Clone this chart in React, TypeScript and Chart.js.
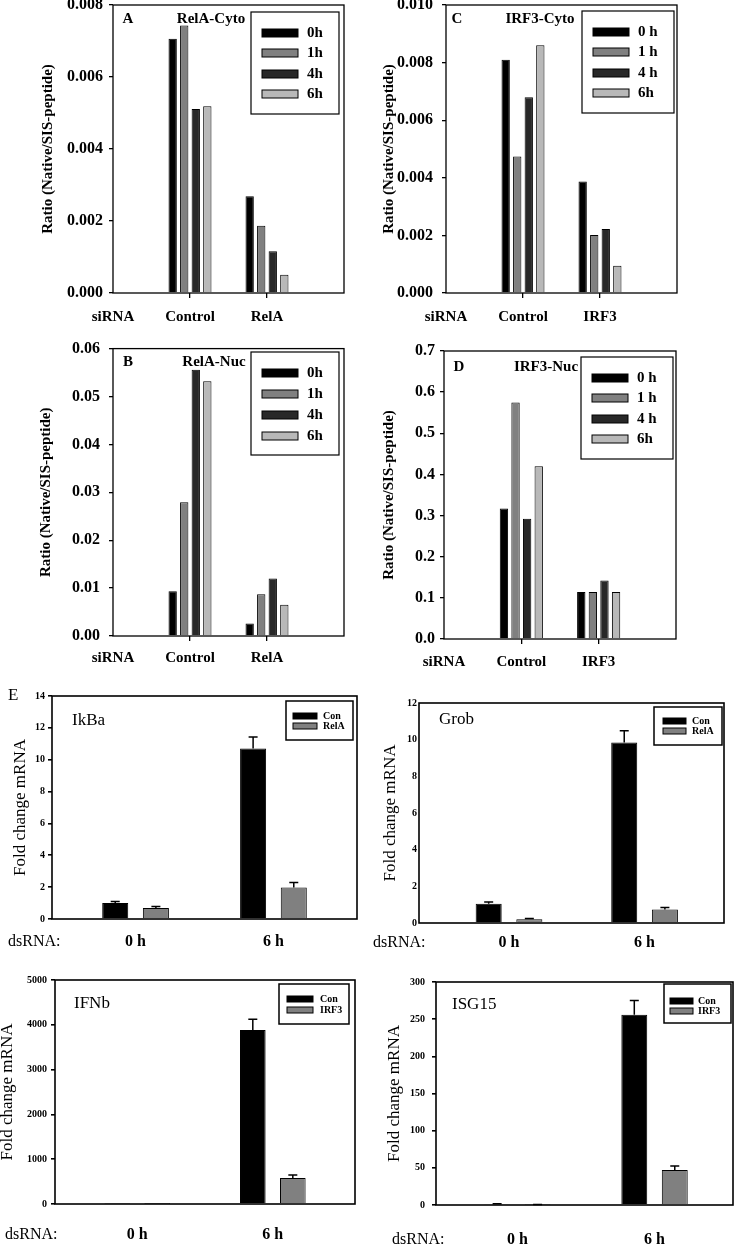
import React, { useEffect, useRef } from 'react';
import { Chart, registerables } from 'chart.js';

Chart.register(...registerables);

const SERIF = "'Liberation Serif', 'DejaVu Serif', 'Times New Roman', serif";

// ---------------- DATA: panels A–D (SIS-peptide ratios) ----------------
const timePoints = ['0h', '1h', '4h', '6h'];
const timePointsSpaced = ['0 h', '1 h', '4 h', '6h'];
const timeColors = ['#000000', '#808080', '#282828', '#b8b8b8'];
const relaCategories = ['siRNA', 'Control', 'RelA'];
const irf3Categories = ['siRNA', 'Control', 'IRF3'];
const categoryTickPositions = [0, 1, 2];
const groupPositions = [1, 2];

const relaCytoControl = [0.00706, 0.00743, 0.00511, 0.00519];
const relaCytoKnockdown = [0.00269, 0.00187, 0.00116, 0.00051];
const relaNucControl = [0.00935, 0.0279, 0.0556, 0.0532];
const relaNucKnockdown = [0.0026, 0.0087, 0.012, 0.0065];
const irf3CytoControl = [0.0081, 0.00474, 0.0068, 0.0086];
const irf3CytoKnockdown = [0.00387, 0.00201, 0.00222, 0.00095];
const irf3NucControl = [0.317, 0.575, 0.292, 0.42];
const irf3NucKnockdown = [0.114, 0.114, 0.142, 0.114];

// ---------------- DATA: panel E (fold change mRNA) ----------------
const dsRnaTimes = ['0 h', '6 h'];
const siRnaColors = ['#000000', '#808080'];
const ikbaCon = [1.0, 10.7];
const ikbaConErr = [0.1, 0.73];
const ikbaRelA = [0.69, 1.98];
const ikbaRelAErr = [0.1, 0.31];
const grobCon = [1.05, 9.84];
const grobConErr = [0.1, 0.65];
const grobRelA = [0.2, 0.73];
const grobRelAErr = [0.05, 0.11];
const ifnbCon = [3, 3886];
const ifnbConErr = [0, 237];
const ifnbIrf3 = [1, 580];
const ifnbIrf3Err = [0, 66];
const isg15Con = [1.4, 256];
const isg15ConErr = [0.3, 19];
const isg15Irf3 = [0.5, 47];
const isg15Irf3Err = [0.1, 5.4];

// ---------------- helpers ----------------
function timeDatasets(control: number[], knockdown: number[], labels: string[]) {
  return labels.map((label, t) => ({
    label,
    data: groupPositions.map((x, g) => ({ x, y: (g === 0 ? control : knockdown)[t] })),
    backgroundColor: timeColors[t],
    borderColor: '#000',
    borderWidth: 1,
    categoryPercentage: 0.6,
    barPercentage: 0.72,
  }));
}

function geneDatasets(series: { label: string; values: number[]; errors: number[] }[], catPct: number) {
  return series.map((s, k) => ({
    label: s.label,
    data: groupPositions.map((x, g) => ({ x, y: s.values[g] })),
    errorBars: s.errors,
    backgroundColor: siRnaColors[k],
    borderColor: '#000',
    borderWidth: 1,
    categoryPercentage: catPct,
    barPercentage: 0.64,
  }));
}

type Txt = { text: string; x: number; y: number; font: string; align?: CanvasTextAlign };
type Leg = { box: number[]; swatchX: number; swatchW: number; swatchH: number; rows: number[]; textX: number; font: string; lineWidth: number };

interface Spec {
  canvas: { x: number; y: number; w: number; h: number };
  plot: { l: number; r: number; t: number; b: number };
  datasets: any[];
  xMin: number; xMax: number; xTicks: number[]; xLabels: string[];
  xFont: any; xPad: number; xTickLen: number;
  yMax: number; yStep: number; yDec: number; yFont: any; yPad: number; yTickLen: number;
  yTitle: string; yTitleFont: any; yTitlePad: number;
  frame: number;
  legend: Leg;
  texts: Txt[];
}

const boldA = `bold 15px ${SERIF}`;
const legFontA = `bold 15px ${SERIF}`;
const regE = `17px ${SERIF}`;
const legFontE = `bold 10px ${SERIF}`;

function makeExtras(s: Spec) {
  const cx = s.canvas.x;
  const cy = s.canvas.y;
  return {
    id: 'panelExtras',
    afterDatasetsDraw(chart: any) {
      const { ctx, chartArea: a } = chart;
      const yScale = chart.scales.y;
      ctx.save();
      ctx.strokeStyle = '#000';
      chart.data.datasets.forEach((ds: any, i: number) => {
        if (!ds.errorBars) return;
        const meta = chart.getDatasetMeta(i);
        meta.data.forEach((bar: any, j: number) => {
          const e = ds.errorBars[j];
          if (!e) return;
          const top = yScale.getPixelForValue(ds.data[j].y + e);
          ctx.lineWidth = 1.5;
          ctx.beginPath();
          ctx.moveTo(bar.x, bar.y);
          ctx.lineTo(bar.x, top);
          ctx.moveTo(bar.x - 4.5, top);
          ctx.lineTo(bar.x + 4.5, top);
          ctx.stroke();
        });
      });
      ctx.lineWidth = s.frame;
      ctx.strokeRect(a.left, a.top, a.right - a.left, a.bottom - a.top);
      ctx.restore();
    },
    afterDraw(chart: any) {
      const ctx = chart.ctx;
      ctx.save();
      const L = s.legend;
      ctx.fillStyle = '#fff';
      ctx.fillRect(L.box[0] - cx, L.box[1] - cy, L.box[2] - L.box[0], L.box[3] - L.box[1]);
      ctx.strokeStyle = '#000';
      ctx.lineWidth = L.lineWidth;
      ctx.strokeRect(L.box[0] - cx, L.box[1] - cy, L.box[2] - L.box[0], L.box[3] - L.box[1]);
      ctx.font = L.font;
      ctx.textAlign = 'left';
      ctx.textBaseline = 'middle';
      chart.data.datasets.forEach((ds: any, k: number) => {
        const ry = L.rows[k] - cy;
        ctx.fillStyle = ds.backgroundColor;
        ctx.fillRect(L.swatchX - cx, ry - L.swatchH / 2, L.swatchW, L.swatchH);
        ctx.lineWidth = 1;
        ctx.strokeStyle = '#000';
        ctx.strokeRect(L.swatchX - cx, ry - L.swatchH / 2, L.swatchW, L.swatchH);
        ctx.fillStyle = '#000';
        ctx.fillText(ds.label, L.textX - cx, ry);
      });
      s.texts.forEach((t) => {
        ctx.font = t.font;
        ctx.fillStyle = '#000';
        ctx.textAlign = t.align || 'center';
        ctx.textBaseline = 'middle';
        ctx.fillText(t.text, t.x - cx, t.y - cy);
      });
      ctx.restore();
    },
  };
}

function buildConfig(s: Spec): any {
  const c = s.canvas;
  const p = s.plot;
  return {
    type: 'bar',
    data: { datasets: s.datasets },
    options: {
      animation: false,
      responsive: false,
      devicePixelRatio: 1,
      events: [],
      layout: { padding: { left: 0, top: p.t - c.y, right: c.x + c.w - p.r, bottom: 0 } },
      plugins: { legend: { display: false }, tooltip: { enabled: false } },
      scales: {
        x: {
          type: 'linear',
          min: s.xMin,
          max: s.xMax,
          offset: false,
          afterBuildTicks: (axis: any) => {
            axis.ticks = s.xTicks.map((v) => ({ value: v }));
          },
          afterFit: (axis: any) => {
            axis.height = c.y + c.h - p.b;
          },
          ticks: {
            autoSkip: false,
            maxRotation: 0,
            color: '#000',
            font: s.xFont,
            padding: s.xPad,
            callback: (_v: any, i: number) => s.xLabels[i],
          },
          grid: {
            display: s.xTickLen > 0,
            drawOnChartArea: false,
            drawTicks: s.xTickLen > 0,
            tickLength: s.xTickLen,
            offset: false,
            lineWidth: s.frame,
            color: (ctx: any) => (ctx.tick && ctx.tick.value > 0 ? '#000' : 'rgba(0,0,0,0)'),
          },
          border: { display: false },
        },
        y: {
          type: 'linear',
          min: 0,
          max: s.yMax,
          afterFit: (axis: any) => {
            axis.width = p.l - c.x;
          },
          ticks: {
            stepSize: s.yStep,
            color: '#000',
            font: s.yFont,
            padding: s.yPad,
            callback: (v: any) => Number(v).toFixed(s.yDec),
          },
          grid: {
            display: true,
            drawOnChartArea: false,
            drawTicks: s.yTickLen > 0,
            tickLength: s.yTickLen,
            color: '#000',
            lineWidth: s.frame,
          },
          border: { display: false },
          title: {
            display: true,
            text: s.yTitle,
            color: '#000',
            font: s.yTitleFont,
            padding: { top: s.yTitlePad, bottom: 0 },
          },
        },
      },
    },
    plugins: [makeExtras(s)],
  };
}

const ratioTitle = 'Ratio (Native/SIS-peptide)';
const foldTitle = 'Fold change mRNA';
const axFontA = { family: SERIF, size: 16, weight: 'bold' };
const catFontA = { family: SERIF, size: 15, weight: 'bold' };
const titleFontA = { family: SERIF, size: 15, weight: 'bold' };
const tickFontE = { family: SERIF, size: 10, weight: 'bold' };
const catFontE = { family: SERIF, size: 16, weight: 'bold' };
const titleFontE = { family: SERIF, size: 17, weight: 'normal' };

function specA(): Spec {
  return {
    canvas: { x: 0, y: -20, w: 368, h: 350 },
    plot: { l: 113, r: 344, t: 5, b: 293 },
    datasets: timeDatasets(relaCytoControl, relaCytoKnockdown, timePoints),
    xMin: 0, xMax: 3, xTicks: categoryTickPositions, xLabels: relaCategories,
    xFont: catFontA, xPad: 10, xTickLen: 5,
    yMax: 0.008, yStep: 0.002, yDec: 3, yFont: axFontA, yPad: 6, yTickLen: 4,
    yTitle: ratioTitle, yTitleFont: titleFontA, yTitlePad: 39.5,
    frame: 1.3,
    legend: { box: [251, 12, 339, 114], swatchX: 262, swatchW: 36, swatchH: 8, rows: [33, 53, 74, 94], textX: 307, font: legFontA, lineWidth: 1.2 },
    texts: [
      { text: 'A', x: 128, y: 19, font: boldA },
      { text: 'RelA-Cyto', x: 211, y: 19, font: boldA },
    ],
  };
}

function specC(): Spec {
  return {
    canvas: { x: 370, y: -20, w: 367, h: 350 },
    plot: { l: 446, r: 677, t: 5, b: 293 },
    datasets: timeDatasets(irf3CytoControl, irf3CytoKnockdown, timePointsSpaced),
    xMin: 0, xMax: 3, xTicks: categoryTickPositions, xLabels: irf3Categories,
    xFont: catFontA, xPad: 10, xTickLen: 5,
    yMax: 0.01, yStep: 0.002, yDec: 3, yFont: axFontA, yPad: 9, yTickLen: 4,
    yTitle: ratioTitle, yTitleFont: titleFontA, yTitlePad: 10,
    frame: 1.3,
    legend: { box: [582, 11, 674, 113], swatchX: 593, swatchW: 36, swatchH: 8, rows: [32, 52, 73, 93], textX: 638, font: legFontA, lineWidth: 1.2 },
    texts: [
      { text: 'C', x: 457, y: 19, font: boldA },
      { text: 'IRF3-Cyto', x: 540, y: 19, font: boldA },
    ],
  };
}

function specB(): Spec {
  return {
    canvas: { x: 0, y: 330, w: 368, h: 345 },
    plot: { l: 113, r: 344, t: 347, b: 636 },
    datasets: timeDatasets(relaNucControl, relaNucKnockdown, timePoints),
    xMin: 0, xMax: 3, xTicks: categoryTickPositions, xLabels: relaCategories,
    xFont: catFontA, xPad: 8, xTickLen: 5,
    yMax: 0.06, yStep: 0.01, yDec: 2, yFont: axFontA, yPad: 9, yTickLen: 4,
    yTitle: ratioTitle, yTitleFont: titleFontA, yTitlePad: 37.5,
    frame: 1.3,
    legend: { box: [251, 352, 339, 455], swatchX: 262, swatchW: 36, swatchH: 8, rows: [373, 394, 415, 436], textX: 307, font: legFontA, lineWidth: 1.2 },
    texts: [
      { text: 'B', x: 128, y: 362, font: boldA },
      { text: 'RelA-Nuc', x: 214, y: 362, font: boldA },
    ],
  };
}

function specD(): Spec {
  return {
    canvas: { x: 370, y: 330, w: 367, h: 345 },
    plot: { l: 444, r: 676, t: 351, b: 639 },
    datasets: timeDatasets(irf3NucControl, irf3NucKnockdown, timePointsSpaced),
    xMin: 0, xMax: 3, xTicks: categoryTickPositions, xLabels: irf3Categories,
    xFont: catFontA, xPad: 9, xTickLen: 5,
    yMax: 0.7, yStep: 0.1, yDec: 1, yFont: axFontA, yPad: 5, yTickLen: 4,
    yTitle: ratioTitle, yTitleFont: titleFontA, yTitlePad: 10,
    frame: 1.3,
    legend: { box: [581, 357, 673, 459], swatchX: 592, swatchW: 36, swatchH: 8, rows: [378, 398, 419, 439], textX: 637, font: legFontA, lineWidth: 1.2 },
    texts: [
      { text: 'D', x: 459, y: 367, font: boldA },
      { text: 'IRF3-Nuc', x: 546, y: 367, font: boldA },
    ],
  };
}

function specIkba(): Spec {
  return {
    canvas: { x: 0, y: 670, w: 368, h: 290 },
    plot: { l: 52, r: 357, t: 696, b: 919 },
    datasets: geneDatasets([
      { label: 'Con', values: ikbaCon, errors: ikbaConErr },
      { label: 'RelA', values: ikbaRelA, errors: ikbaRelAErr },
    ], 0.59),
    xMin: 0.394, xMax: 2.606, xTicks: groupPositions, xLabels: dsRnaTimes,
    xFont: catFontE, xPad: 13.4, xTickLen: 0,
    yMax: 14, yStep: 2, yDec: 0, yFont: tickFontE, yPad: 3, yTickLen: 4,
    yTitle: foldTitle, yTitleFont: titleFontE, yTitlePad: 10.8,
    frame: 1.6,
    legend: { box: [286, 701, 353, 740], swatchX: 293, swatchW: 24, swatchH: 6, rows: [716, 726], textX: 323, font: legFontE, lineWidth: 1.5 },
    texts: [
      { text: 'E', x: 8, y: 696, font: regE, align: 'left' },
      { text: 'IkBa', x: 72, y: 721, font: regE, align: 'left' },
      { text: 'dsRNA:', x: 8, y: 942, font: `16px ${SERIF}`, align: 'left' },
    ],
  };
}

function specGrob(): Spec {
  return {
    canvas: { x: 370, y: 675, w: 367, h: 285 },
    plot: { l: 419, r: 724, t: 703, b: 923 },
    datasets: geneDatasets([
      { label: 'Con', values: grobCon, errors: grobConErr },
      { label: 'RelA', values: grobRelA, errors: grobRelAErr },
    ], 0.6),
    xMin: 0.336, xMax: 2.586, xTicks: groupPositions, xLabels: dsRnaTimes,
    xFont: catFontE, xPad: 10.4, xTickLen: 0,
    yMax: 12, yStep: 2, yDec: 0, yFont: tickFontE, yPad: 2, yTickLen: 0,
    yTitle: foldTitle, yTitleFont: titleFontE, yTitlePad: 10.3,
    frame: 1.6,
    legend: { box: [654, 707, 722, 745], swatchX: 663, swatchW: 23, swatchH: 6, rows: [721, 731], textX: 692, font: legFontE, lineWidth: 1.5 },
    texts: [
      { text: 'Grob', x: 439, y: 720, font: regE, align: 'left' },
      { text: 'dsRNA:', x: 373, y: 943, font: `16px ${SERIF}`, align: 'left' },
    ],
  };
}

function specIfnb(): Spec {
  return {
    canvas: { x: -5, y: 960, w: 373, h: 287 },
    plot: { l: 55, r: 355, t: 980, b: 1204 },
    datasets: geneDatasets([
      { label: 'Con', values: ifnbCon, errors: ifnbConErr },
      { label: 'IRF3', values: ifnbIrf3, errors: ifnbIrf3Err },
    ], 0.59),
    xMin: 0.394, xMax: 2.606, xTicks: groupPositions, xLabels: dsRnaTimes,
    xFont: catFontE, xPad: 21.4, xTickLen: 0,
    yMax: 5000, yStep: 1000, yDec: 0, yFont: tickFontE, yPad: 4, yTickLen: 4,
    yTitle: foldTitle, yTitleFont: titleFontE, yTitlePad: 2.8,
    frame: 1.6,
    legend: { box: [279, 984, 349, 1024], swatchX: 287, swatchW: 26, swatchH: 6, rows: [999, 1010], textX: 320, font: legFontE, lineWidth: 1.5 },
    texts: [
      { text: 'IFNb', x: 74, y: 1004, font: regE, align: 'left' },
      { text: 'dsRNA:', x: 5, y: 1235, font: `16px ${SERIF}`, align: 'left' },
    ],
  };
}

function specIsg15(): Spec {
  return {
    canvas: { x: 370, y: 960, w: 367, h: 287 },
    plot: { l: 436, r: 733, t: 982, b: 1205 },
    datasets: geneDatasets([
      { label: 'Con', values: isg15Con, errors: isg15ConErr },
      { label: 'IRF3', values: isg15Irf3, errors: isg15Irf3Err },
    ], 0.59),
    xMin: 0.407, xMax: 2.572, xTicks: groupPositions, xLabels: dsRnaTimes,
    xFont: catFontE, xPad: 25.4, xTickLen: 0,
    yMax: 300, yStep: 50, yDec: 0, yFont: tickFontE, yPad: 7, yTickLen: 4,
    yTitle: foldTitle, yTitleFont: titleFontE, yTitlePad: 14.3,
    frame: 1.6,
    legend: { box: [664, 984, 731, 1023], swatchX: 670, swatchW: 23, swatchH: 6, rows: [1001, 1011], textX: 698, font: legFontE, lineWidth: 1.5 },
    texts: [
      { text: 'ISG15', x: 452, y: 1005, font: regE, align: 'left' },
      { text: 'dsRNA:', x: 392, y: 1240, font: `16px ${SERIF}`, align: 'left' },
    ],
  };
}

function Panel({ make }: { make: () => Spec }) {
  const ref = useRef<HTMLCanvasElement>(null);
  const spec = make();
  useEffect(() => {
    const chart = new Chart(ref.current as HTMLCanvasElement, buildConfig(make()));
    return () => chart.destroy();
  }, []);
  const c = spec.canvas;
  return (
    <canvas
      ref={ref}
      width={c.w}
      height={c.h}
      style={{ position: 'absolute', left: c.x, top: c.y, width: c.w, height: c.h }}
    />
  );
}

export default function App() {
  return (
    <div
      style={{
        position: 'absolute',
        left: 0,
        top: 0,
        width: 737,
        height: 1247,
        overflow: 'hidden',
        background: '#fff',
      }}
    >
      <Panel make={specA} />
      <Panel make={specC} />
      <Panel make={specB} />
      <Panel make={specD} />
      <Panel make={specIkba} />
      <Panel make={specGrob} />
      <Panel make={specIfnb} />
      <Panel make={specIsg15} />
    </div>
  );
}
